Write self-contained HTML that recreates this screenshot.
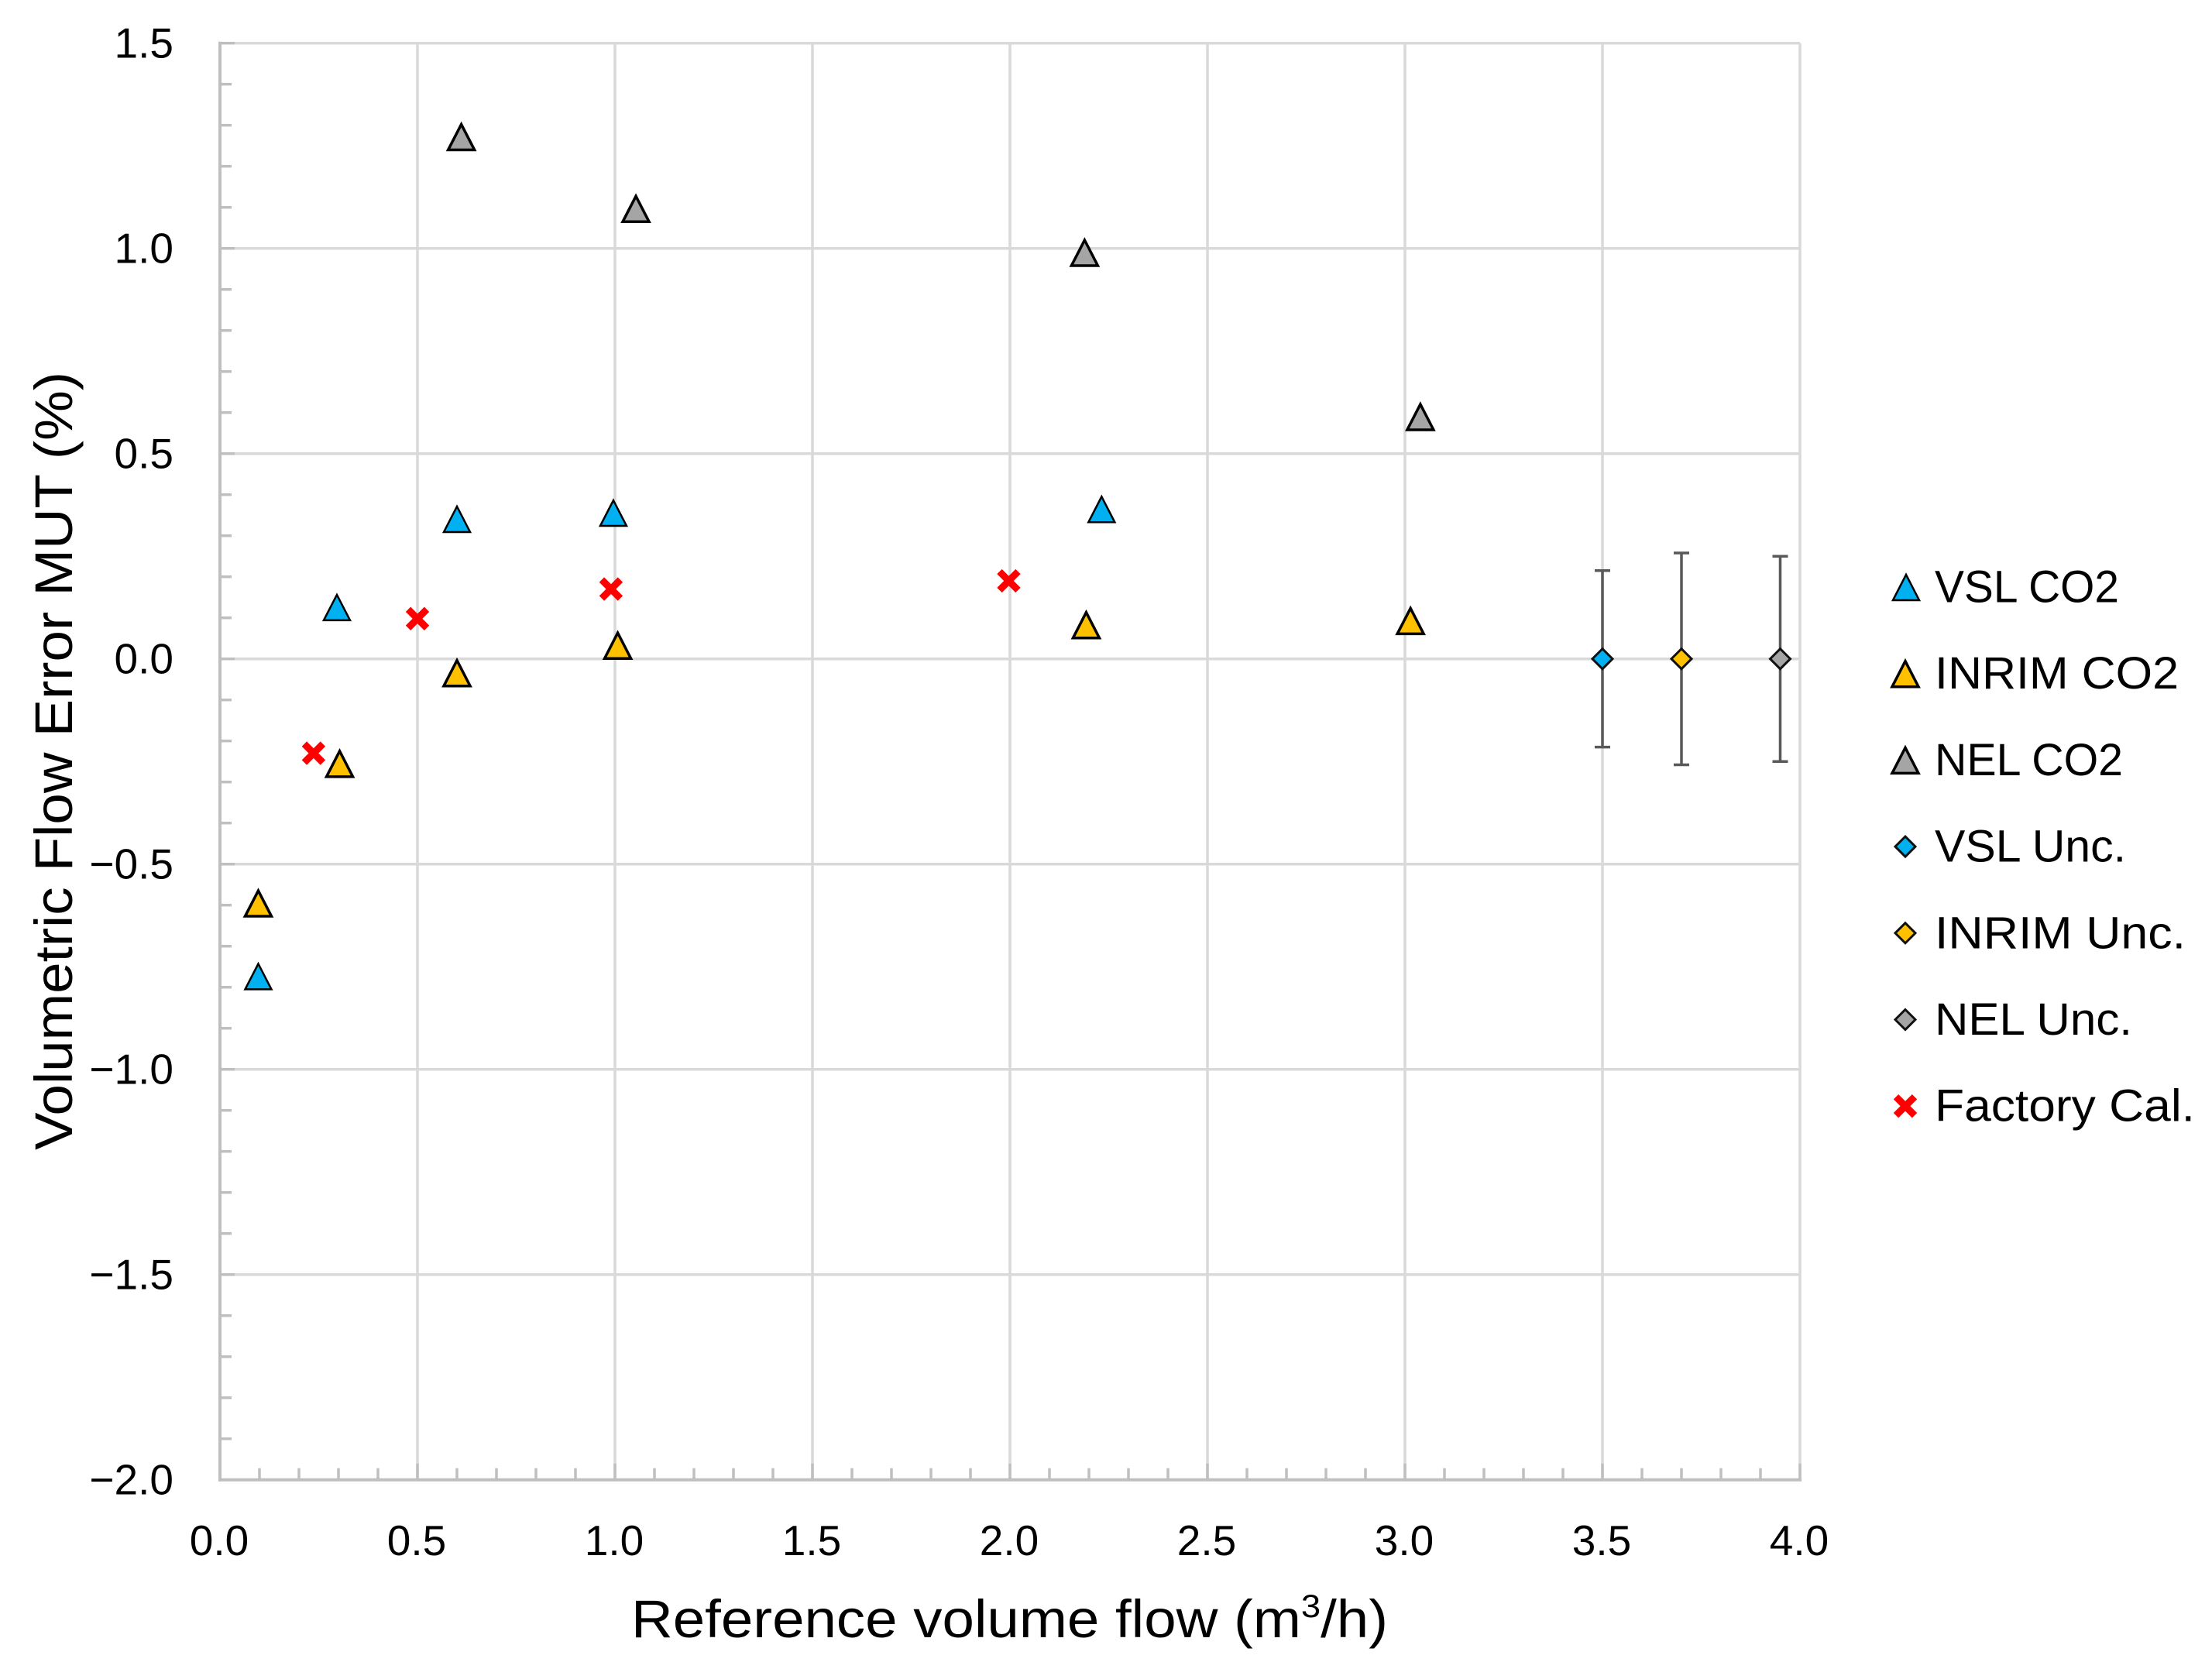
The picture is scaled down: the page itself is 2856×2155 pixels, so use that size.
<!DOCTYPE html>
<html lang="en">
<head>
<meta charset="utf-8">
<title>Volumetric Flow Error MUT vs Reference volume flow</title>
<style>
html,body{margin:0;padding:0;background:#fff;}
svg{display:block;}
text{font-family:"Liberation Sans",sans-serif;fill:#000;}
</style>
</head>
<body>
<svg id="chart" xmlns="http://www.w3.org/2000/svg" width="2856" height="2155" viewBox="0 0 2856 2155">
  <rect x="0" y="0" width="2856" height="2155" fill="#ffffff"/>
  <g id="grid"></g>
  <g id="axes"></g>
  <g id="marks"></g>
  <g id="legend"></g>
  <text transform="translate(93,1485) rotate(-90)" font-size="69" textLength="1005" lengthAdjust="spacingAndGlyphs">Volumetric Flow Error MUT (%)</text>
  <text x="815" y="2114" font-size="69" textLength="977" lengthAdjust="spacingAndGlyphs">Reference volume flow (m<tspan font-size="42" dy="-26">3</tspan><tspan dy="26">/h)</tspan></text>
</svg>
<script>
const xTickLabels = ["0.0","0.5","1.0","1.5","2.0","2.5","3.0","3.5","4.0"];
const xTickValues = [0,0.5,1,1.5,2,2.5,3,3.5,4];
const yTickLabels = ["1.5","1.0","0.5","0.0","−0.5","−1.0","−1.5","−2.0"];
const yTickValues = [1.5,1,0.5,0,-0.5,-1,-1.5,-2];
const xMinorValues = [0.1,0.2,0.3,0.4,0.6,0.7,0.8,0.9,1.1,1.2,1.3,1.4,1.6,1.7,1.8,1.9,2.1,2.2,2.3,2.4,2.6,2.7,2.8,2.9,3.1,3.2,3.3,3.4,3.6,3.7,3.8,3.9];
const yMinorValues = [1.4,1.3,1.2,1.1,0.9,0.8,0.7,0.6,0.4,0.3,0.2,0.1,-0.1,-0.2,-0.3,-0.4,-0.6,-0.7,-0.8,-0.9,-1.1,-1.2,-1.3,-1.4,-1.6,-1.7,-1.8,-1.9];

const vslX = [0.097,0.296,0.6,0.996,2.232];
const vslY = [-0.773,0.126,0.341,0.356,0.365];
const inrimX = [0.097,0.303,0.6,1.007,2.193,3.014];
const inrimY = [-0.595,-0.255,-0.034,0.033,0.083,0.093];
const nelX = [0.611,1.053,2.189,3.039];
const nelY = [1.272,1.097,0.99,0.59];
const factoryX = [0.237,0.5,0.99,1.997];
const factoryY = [-0.23,0.098,0.17,0.19];
const uncX = [3.5,3.7,3.95];
const uncY = [0,0,0];
const uncErr = [0.215,0.258,0.25];
const uncNames = ["vsl-unc","inrim-unc","nel-unc"];
const uncColors = ["#00b0f0","#ffc000","#a5a5a5"];
const legendLabels = ["VSL CO2","INRIM CO2","NEL CO2","VSL Unc.","INRIM Unc.","NEL Unc.","Factory Cal."];
const legendLengths = [238,315,243,247,324,255,336];

const NS = "http://www.w3.org/2000/svg";
function xScale(v){ return 284 + v * 510; }
function yScale(v){ return 850.7 - v * 530; }
function make(parent, tag, attrs){
  const e = document.createElementNS(NS, tag);
  for (const k in attrs) e.setAttribute(k, attrs[k]);
  parent.appendChild(e);
  return e;
}
const grid = document.getElementById('grid');
const axes = document.getElementById('axes');
const marks = document.getElementById('marks');
const legend = document.getElementById('legend');

function triangle(parent, cx, cy, fill, sw){
  const p = make(parent, 'polygon', {points:(cx)+','+(cy-16)+' '+(cx+17)+','+(cy+17)+' '+(cx-17)+','+(cy+17), fill:fill, stroke:'#000', 'stroke-width':sw, 'stroke-linejoin':'miter'});
  return p;
}
function diamond(parent, cx, cy, fill){
  const p = make(parent, 'polygon', {points:cx+','+(cy-13)+' '+(cx+13)+','+cy+' '+cx+','+(cy+13)+' '+(cx-13)+','+cy, fill:fill, stroke:'#111', 'stroke-width':3});
  return p;
}
function cross(parent, cx, cy){
  const p = make(parent, 'path', {d:'M'+(cx-12)+' '+(cy-12)+'L'+(cx+12)+' '+(cy+12)+'M'+(cx+12)+' '+(cy-12)+'L'+(cx-12)+' '+(cy+12), stroke:'#ff0000', 'stroke-width':9, fill:'none'});
  return p;
}

yTickValues.forEach(function(v){
  if (v === -2) return;
  const l = make(grid, 'line', {x1:284, x2:2324, y1:yScale(v), y2:yScale(v), stroke:'#d9d9d9', 'stroke-width':3.5});
  
  
});
xTickValues.forEach(function(v){
  if (v === 0) return;
  const l = make(grid, 'line', {x1:xScale(v), x2:xScale(v), y1:yScale(1.5), y2:yScale(-2), stroke:'#d9d9d9', 'stroke-width':3.5});
  
  
});

const yAxis = make(axes, 'line', {x1:284, x2:284, y1:yScale(1.5)-2, y2:yScale(-2)+2, stroke:'#bfbfbf', 'stroke-width':4});


const xAxis = make(axes, 'line', {x1:282, x2:2326, y1:yScale(-2), y2:yScale(-2), stroke:'#bfbfbf', 'stroke-width':4});



yMinorValues.forEach(function(v){
  const t = make(axes, 'line', {x1:284, x2:299, y1:yScale(v), y2:yScale(v), stroke:'#bfbfbf', 'stroke-width':3.5});
  
  
});
xMinorValues.forEach(function(v){
  const t = make(axes, 'line', {x1:xScale(v), x2:xScale(v), y1:yScale(-2), y2:yScale(-2)-15, stroke:'#bfbfbf', 'stroke-width':3.5});
  
  
});
yTickValues.forEach(function(v, i){
  const t = make(axes, 'line', {x1:284, x2:303, y1:yScale(v), y2:yScale(v), stroke:'#bfbfbf', 'stroke-width':3.5});
  
  
  const s = make(axes, 'text', {x:224, y:yScale(v)+19, 'font-size':55, 'text-anchor':'end'});
  s.textContent = yTickLabels[i];
  
  
});
xTickValues.forEach(function(v, i){
  const t = make(axes, 'line', {x1:xScale(v), x2:xScale(v), y1:yScale(-2), y2:yScale(-2)-21, stroke:'#bfbfbf', 'stroke-width':3.5});
  
  
  const s = make(axes, 'text', {x:xScale(v)-1, y:2008, 'font-size':55, 'text-anchor':'middle'});
  s.textContent = xTickLabels[i];
  
  
});

uncX.forEach(function(v, i){
  const cx = xScale(v);
  const top = yScale(uncY[i] + uncErr[i]);
  const bot = yScale(uncY[i] - uncErr[i]);
  const b = make(marks, 'path', {d:'M'+cx+' '+top+'V'+bot+'M'+(cx-10)+' '+top+'H'+(cx+10)+'M'+(cx-10)+' '+bot+'H'+(cx+10), stroke:'#595959', 'stroke-width':3.5, fill:'none'});
  
  
  const d = diamond(marks, cx, yScale(uncY[i]), uncColors[i]);
  
  
});
vslX.forEach(function(v, i){
  const p = triangle(marks, xScale(v), yScale(vslY[i]), '#00b0f0', 2.5);
  
  
});
inrimX.forEach(function(v, i){
  const p = triangle(marks, xScale(v), yScale(inrimY[i]), '#ffc000', 3.5);
  
  
});
nelX.forEach(function(v, i){
  const p = triangle(marks, xScale(v), yScale(nelY[i]), '#a5a5a5', 3.5);
  
  
});
factoryX.forEach(function(v, i){
  const p = cross(marks, xScale(v), yScale(factoryY[i]));
  
  
});

legendLabels.forEach(function(label, i){
  const cy = 758 + i * 111.7;
  let m;
  if (i === 0) m = triangle(legend, 2461, cy, '#00b0f0', 2.5);
  else if (i === 1) m = triangle(legend, 2460, cy, '#ffc000', 3.5);
  else if (i === 2) m = triangle(legend, 2460, cy, '#a5a5a5', 3.5);
  else if (i < 6) m = diamond(legend, 2460, cy, uncColors[i - 3]);
  else m = cross(legend, 2460, cy);
  
  
  const s = make(legend, 'text', {x:2498, y:cy + 19.5, 'font-size':58, textLength:legendLengths[i], lengthAdjust:'spacingAndGlyphs'});
  s.textContent = label;
  
  
});
</script>
</body>
</html>
